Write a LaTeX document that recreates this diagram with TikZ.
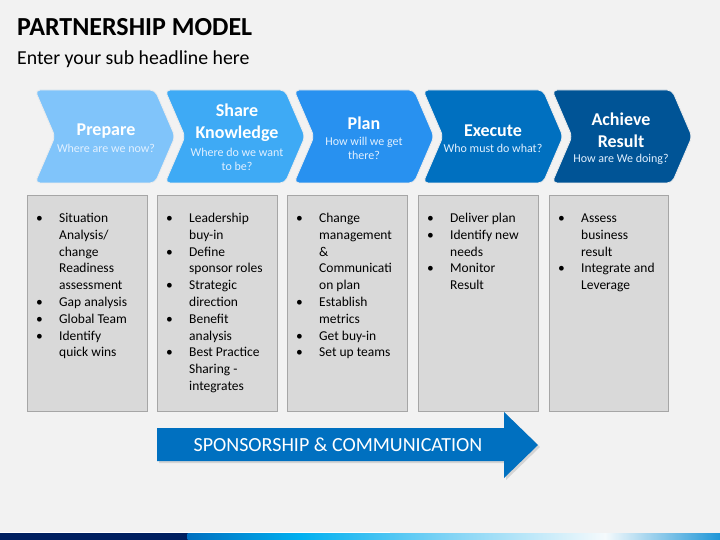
\documentclass[tikz,border=0pt]{standalone}
\usepackage{fontspec}
\setmainfont{Carlito}
\usetikzlibrary{positioning}

\definecolor{pagebg}{RGB}{242,242,242}
\definecolor{stepA}{RGB}{128,196,250}
\definecolor{stepB}{RGB}{62,170,245}
\definecolor{stepC}{RGB}{40,145,240}
\definecolor{stepD}{RGB}{0,112,192}
\definecolor{stepE}{RGB}{0,84,150}
\definecolor{boxfill}{RGB}{217,217,217}
\definecolor{boxline}{RGB}{166,166,166}
\definecolor{subtxt}{RGB}{225,240,255}
\definecolor{navy}{RGB}{0,32,96}

\newcommand{\chev}[2]{%
	\fill[#2, draw=white!85!gray, line width=0.8pt, rounded corners=5pt]
		(#1,90) -- ++(120,0) -- ++(20,46.5) -- ++(-20,46.5) -- ++(-120,0) -- ++(20,-46.5) -- cycle;}
\newcommand{\bl}{\textbullet}

\begin{document}
\begin{tikzpicture}[x=1pt, y=-1pt,
	stephead/.style={align=center, inner sep=0pt, text=white, font=\fontsize{18}{22}\selectfont\bfseries},
	stepsub/.style={align=center, inner sep=0pt, text=subtxt, font=\fontsize{12}{14}\selectfont},
	itembox/.style={fill=boxfill, draw=boxline, line width=0.8pt},
	itemlist/.style={anchor=base west, inner sep=0pt, font=\fontsize{13.5}{16.8}\selectfont}]

	\fill[pagebg] (0,0) rectangle (720,540);
	\useasboundingbox (0,0) rectangle (720,540);

	\node[anchor=base west, inner sep=0pt, font=\fontsize{26}{30}\selectfont\bfseries] (title) at (17,36) {PARTNERSHIP MODEL};
	\node[anchor=base west, inner sep=0pt, font=\fontsize{19.8}{24}\selectfont] (subtitle) at (17,65) {Enter your sub headline here};

	% steps
	\chev{35}{stepA}
	\chev{165}{stepB}
	\chev{294}{stepC}
	\chev{423}{stepD}
	\chev{552}{stepE}

	\node[stephead] (prepare) at (106,131) {Prepare};
	\node[stepsub] (prepareq) at (106,148) {Where are we now?};
	\node[stephead] (share) at (237,123) {Share\\ Knowledge};
	\node[stepsub] (shareq) at (237,159) {Where do we want\\ to be?};
	\node[stephead] (plan) at (364,123) {Plan};
	\node[stepsub] (planq) at (364,148) {How will we get\\ there?};
	\node[stephead] (execute) at (493,131) {Execute};
	\node[stepsub] (executeq) at (493,148) {Who must do what?};
	\node[stephead] (achieve) at (621,130) {Achieve\\ Result};
	\node[stepsub] (achieveq) at (621,159) {How are We doing?};

	% boxes
	\draw[itembox] (27,195) rectangle (147,411);
	\draw[itembox] (157,195) rectangle (277,411);
	\draw[itembox] (287,195) rectangle (407,411);
	\draw[itembox] (418,195) rectangle (538,411);
	\draw[itembox] (549,195) rectangle (668,411);

	\node[itemlist] (listA) at (36,222.5) {\begin{tabular}[t]{@{}p{23pt}@{}l@{}}
		\bl & Situation\\ & Analysis/\\ & change\\ & Readiness\\ & assessment\\
		\bl & Gap analysis\\ \bl & Global Team\\ \bl & Identify\\ & quick wins
	\end{tabular}};
	\node[itemlist] (listB) at (166,222.5) {\begin{tabular}[t]{@{}p{23pt}@{}l@{}}
		\bl & Leadership\\ & buy-in\\ \bl & Define\\ & sponsor roles\\ \bl & Strategic\\ & direction\\
		\bl & Benefit\\ & analysis\\ \bl & Best Practice\\ & Sharing -\\ & integrates
	\end{tabular}};
	\node[itemlist] (listC) at (296,222.5) {\begin{tabular}[t]{@{}p{23pt}@{}l@{}}
		\bl & Change\\ & management\\ & \&\\ & Communicati\\ & on plan\\
		\bl & Establish\\ & metrics\\ \bl & Get buy-in\\ \bl & Set up teams
	\end{tabular}};
	\node[itemlist] (listD) at (427,222.5) {\begin{tabular}[t]{@{}p{23pt}@{}l@{}}
		\bl & Deliver plan\\ \bl & Identify new\\ & needs\\ \bl & Monitor\\ & Result
	\end{tabular}};
	\node[itemlist] (listE) at (558,222.5) {\begin{tabular}[t]{@{}p{23pt}@{}l@{}}
		\bl & Assess\\ & business\\ & result\\ \bl & Integrate and\\ & Leverage
	\end{tabular}};

	% sponsorship arrow
	\fill[black, opacity=0.12] (159,430) -- (506,430) -- (506,414) -- (540,447) -- (506,480) -- (506,463) -- (159,463) -- cycle;
	\fill[stepD] (157,428) -- (504,428) -- (504,412) -- (538,445) -- (504,478) -- (504,461) -- (157,461) -- cycle;
	\node[font=\fontsize{20}{24}\selectfont, text=white, inner sep=0pt] (sponsor) at (338,445) {SPONSORSHIP \& COMMUNICATION};

	% bottom bar
	\fill[white] (0,532) rectangle (390,533.5);
	\fill[navy] (0,533) rectangle (188,540);
	\shade[left color=stepD, right color={rgb,255:red,0;green,176;blue,240}] (187.5,533) rectangle (300.5,540);
	\shade[left color={rgb,255:red,0;green,176;blue,240}, right color={rgb,255:red,130;green,212;blue,245}] (300,533) rectangle (450.5,540);
	\shade[left color={rgb,255:red,130;green,212;blue,245}, right color={rgb,255:red,245;green,250;blue,252}] (450,533) rectangle (605.5,540);
	\shade[left color={rgb,255:red,245;green,250;blue,252}, right color={rgb,255:red,30;green,150;blue,215}] (605,533) rectangle (720,540);
\end{tikzpicture}
\end{document}
